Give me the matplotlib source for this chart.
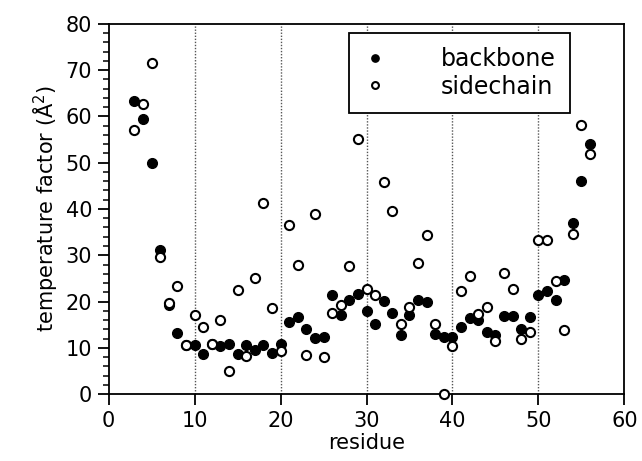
import matplotlib

matplotlib.use("Agg")
import matplotlib.pyplot as plt
from matplotlib.ticker import MultipleLocator

# residue numbers and temperature factors
residue = list(range(3, 57))
backbone = [63.4, 59.5, 49.9, 31.1, 19.2, 13.1, 10.5, 10.5, 8.6, 10.8,
            10.4, 10.8, 8.6, 10.5, 9.5, 10.7, 8.9, 10.9, 15.6, 16.7,
            14.0, 12.1, 12.3, 21.4, 17.0, 20.3, 21.6, 17.9, 15.2, 20.2,
            17.6, 12.8, 17.0, 20.3, 20.0, 13.0, 12.4, 12.4, 14.4, 16.4,
            16.0, 13.3, 12.8, 16.8, 16.8, 14.1, 16.7, 21.5, 22.3, 20.3,
            24.6, 37.0, 46.0, 54.0]
sidechain = [57.0, 62.7, 71.5, 29.7, 19.7, 23.4, 10.5, 17.0, 14.4, 10.8,
             15.9, 5.0, 22.4, 8.3, 25.0, 41.4, 18.5, 9.2, 36.6, 28.0,
             8.4, 38.9, 7.9, 17.6, 19.2, 27.7, 55.2, 22.8, 21.5, 45.8,
             39.6, 15.1, 18.9, 28.3, 34.4, 15.1, 0.0, 10.4, 22.2, 25.6,
             17.4, 18.9, 11.5, 26.2, 22.8, 11.9, 13.5, 33.3, 33.3, 24.4,
             13.8, 34.6, 58.2, 51.9]

fig = plt.figure(figsize=(6.42, 4.61), dpi=100)
ax = fig.add_axes([0.1693, 0.1453, 0.8032, 0.8027])

for x in (10, 20, 30, 40, 50):
    ax.axvline(x, color="#555555", lw=1.0, ls=(0, (1, 1.2)), zorder=0)

ax.plot(residue, backbone, "o", color="black", ms=7, mec="black",
        label="backbone", zorder=2)
ax.plot(residue, sidechain, "o", mfc="white", mec="black", mew=1.5, ms=6.6,
        label="sidechain", zorder=3, clip_on=False)

ax.set_xlim(0, 60)
ax.set_ylim(0, 80)
ax.xaxis.set_major_locator(MultipleLocator(10))
ax.yaxis.set_major_locator(MultipleLocator(10))
ax.yaxis.set_minor_locator(MultipleLocator(2))
ax.tick_params(axis="both", which="major", direction="out", length=8,
               width=1.3, labelsize=15, pad=4)
ax.tick_params(axis="y", which="minor", direction="out", length=4, width=1.1)
for s in ax.spines.values():
    s.set_linewidth(1.3)

ax.set_xlabel("residue", fontsize=15, labelpad=2)
ax.set_ylabel("temperature factor (Å$^2$)", fontsize=15, labelpad=4)

leg = ax.legend(loc="upper left", bbox_to_anchor=(0.466, 0.976), fontsize=17,
                frameon=True, fancybox=False, edgecolor="black",
                handlelength=1.0, handletextpad=2.3, borderpad=0.6,
                borderaxespad=0, labelspacing=0.15, markerscale=0.75,
                framealpha=1)
leg.get_frame().set_linewidth(1.3)
leg._legend_box.align = "right"

fig.savefig("out.png", dpi=100)
